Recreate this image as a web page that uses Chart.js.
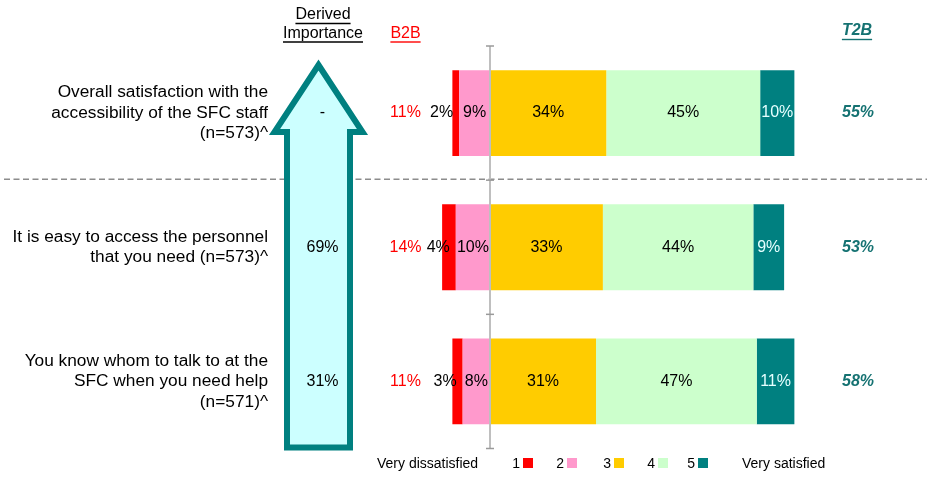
<!DOCTYPE html>
<html><head><meta charset="utf-8">
<script src="https://cdn.jsdelivr.net/npm/chart.js@4.4.1/dist/chart.umd.min.js"></script>
<style>html,body{margin:0;padding:0;background:#fff;overflow:hidden;} canvas{display:block;}</style>
</head><body>
<canvas id="c" width="929" height="477"></canvas>
<script>
// ---------- data ----------
const categories = [
  ['Overall satisfaction with the', 'accessibility of the SFC staff', '(n=573)^'],
  ['It is easy to access the personnel', 'that you need (n=573)^'],
  ['You know whom to talk to at the', 'SFC when you need help', '(n=571)^']
];
const ratingLabels = ['1', '2', '3', '4', '5'];
const veryDissatisfied = [2, 4, 3];   // rating 1
const dissatisfied     = [9, 10, 8];  // rating 2
const neutral          = [34, 33, 31];// rating 3
const satisfied        = [45, 44, 47];// rating 4
const verySatisfied    = [10, 9, 11]; // rating 5
const importance = ['-', '69%', '31%'];
const b2b = [11, 14, 11];
const t2b = [55, 53, 58];
const ratingColors = ['#ff0000', '#ff99cc', '#ffcc00', '#ccffcc', '#008080'];

const FONT = '"Liberation Sans", Arial, Helvetica, sans-serif';

function underlinedText(ctx, text, x, y, lineY, color, font) {
  ctx.font = font; ctx.fillStyle = color; ctx.textAlign = 'center'; ctx.textBaseline = 'middle';
  ctx.fillText(text, x, y);
  const w = ctx.measureText(text).width;
  ctx.strokeStyle = color; ctx.lineWidth = 1.4;
  ctx.beginPath(); ctx.moveTo(x - w / 2, lineY); ctx.lineTo(x + w / 2, lineY); ctx.stroke();
}

const decor = {
  id: 'decor',
  beforeDatasetsDraw(chart) {
    const { ctx, chartArea: ca, scales: { y } } = chart;
    ctx.save();
    // dashed separator between the first and second statement
    const ySep = (y.getPixelForValue(0) + y.getPixelForValue(1)) / 2 - 1;
    ctx.strokeStyle = '#8c8c8c'; ctx.lineWidth = 1.5; ctx.setLineDash([6, 3.5]);
    ctx.beginPath(); ctx.moveTo(4, ySep); ctx.lineTo(927, ySep); ctx.stroke();
    ctx.setLineDash([]);

    // importance arrow
    const cx = 318.5, tipY = 65, headY = 132, headHalf = 44, shaftHalf = 31.5, bottom = ca.bottom - 1;
    ctx.beginPath();
    ctx.moveTo(cx, tipY);
    ctx.lineTo(cx + headHalf, headY);
    ctx.lineTo(cx + shaftHalf, headY);
    ctx.lineTo(cx + shaftHalf, bottom);
    ctx.lineTo(cx - shaftHalf, bottom);
    ctx.lineTo(cx - shaftHalf, headY);
    ctx.lineTo(cx - headHalf, headY);
    ctx.closePath();
    ctx.fillStyle = '#ccffff'; ctx.fill();
    ctx.strokeStyle = '#008080'; ctx.lineWidth = 6; ctx.lineJoin = 'miter'; ctx.miterLimit = 10; ctx.stroke();

    // headers
    underlinedText(ctx, 'Derived', 323, 15, 23.5, '#000', '16px ' + FONT);
    underlinedText(ctx, 'Importance', 323, 34, 42, '#000', '16px ' + FONT);
    underlinedText(ctx, 'B2B', 405.5, 34, 42, '#ff0000', '16px ' + FONT);
    underlinedText(ctx, 'T2B', 857, 31, 39.5, '#157272', 'italic bold 16px ' + FONT);

    // column values
    ctx.textAlign = 'center'; ctx.textBaseline = 'middle';
    categories.forEach((c, i) => {
      const py = y.getPixelForValue(i);
      ctx.font = '16px ' + FONT; ctx.fillStyle = '#000';
      ctx.fillText(importance[i], 322.5, py);
      ctx.fillStyle = '#ff0000';
      ctx.fillText(b2b[i] + '%', 405.5, py);
      ctx.font = 'italic bold 16px ' + FONT; ctx.fillStyle = '#157272';
      ctx.fillText(t2b[i] + '%', 858, py);
    });

    // legend
    ctx.font = '14px ' + FONT; ctx.fillStyle = '#000'; ctx.textBaseline = 'middle';
    const ly = 464;
    ctx.textAlign = 'left';
    ctx.fillText('Very dissatisfied', 377, ly);
    ctx.fillText('Very satisfied', 742, ly);
    const boxX = [523, 567, 614, 658, 698];
    ratingLabels.forEach((lab, i) => {
      ctx.fillStyle = '#000'; ctx.textAlign = 'right';
      ctx.fillText(lab, boxX[i] - 3, ly);
      ctx.fillStyle = ratingColors[i];
      ctx.fillRect(boxX[i], ly - 6, 10, 10);
    });
    ctx.restore();
  },
  afterDatasetsDraw(chart) {
    const { ctx, chartArea: ca, scales: { x, y } } = chart;
    ctx.save();
    // segment labels
    ctx.font = '16px ' + FONT; ctx.textBaseline = 'middle';
    chart.data.datasets.forEach((ds, di) => {
      const meta = chart.getDatasetMeta(di);
      meta.data.forEach((el, i) => {
        const v = Math.abs(ds.data[i]);
        const left = Math.min(el.x, el.base), right = Math.max(el.x, el.base);
        ctx.fillStyle = ds.label === '5' ? '#e6ffff' : '#000';
        if (ds.label === '1') {
          ctx.textAlign = 'right';
          ctx.fillText(v + '%', right - 6, el.y);
        } else {
          ctx.textAlign = 'center';
          ctx.fillText(v + '%', (left + right) / 2, el.y);
        }
      });
    });
    // zero axis line with ticks
    const x0 = x.getPixelForValue(0);
    ctx.strokeStyle = '#bfbfbf'; ctx.lineWidth = 2;
    ctx.beginPath(); ctx.moveTo(x0, ca.top); ctx.lineTo(x0, ca.bottom); ctx.stroke();
    ctx.strokeStyle = '#9a9a9a'; ctx.lineWidth = 1.5;
    for (let k = 0; k <= categories.length; k++) {
      const ty = k === 0 ? ca.top : (k === categories.length ? ca.bottom : (y.getPixelForValue(k - 1) + y.getPixelForValue(k)) / 2);
      ctx.beginPath(); ctx.moveTo(x0 - 4, ty); ctx.lineTo(x0 + 4, ty); ctx.stroke();
    }
    ctx.restore();
  }
};

new Chart(document.getElementById('c'), {
  type: 'bar',
  data: {
    labels: categories,
    datasets: [
      { label: '2', data: dissatisfied.map(v => -v), backgroundColor: ratingColors[1] },
      { label: '1', data: veryDissatisfied.map(v => -v), backgroundColor: ratingColors[0] },
      { label: '3', data: neutral, backgroundColor: ratingColors[2] },
      { label: '4', data: satisfied, backgroundColor: ratingColors[3] },
      { label: '5', data: verySatisfied, backgroundColor: ratingColors[4] }
    ]
  },
  options: {
    indexAxis: 'y',
    responsive: false,
    animation: false,
    devicePixelRatio: 1,
    layout: { padding: { left: 0, right: 97, top: 46, bottom: 28.5 } },
    datasets: { bar: { categoryPercentage: 1, barPercentage: 0.64, borderWidth: 0 } },
    plugins: { legend: { display: false }, tooltip: { enabled: false } },
    scales: {
      x: { stacked: true, min: -20, max: 100, display: false },
      y: {
        stacked: true,
        position: 'left',
        weight: 10,
        grid: { display: false, drawTicks: false },
        border: { display: false },
        ticks: { font: { size: 17.3, family: FONT, lineHeight: 1.18 }, color: '#000', padding: 0, autoSkip: false },
        afterFit(axis) { axis.width = 268; axis.paddingTop = 0; axis.paddingBottom = 0; }
      },
      yGap: {
        type: 'category',
        position: 'left',
        weight: 0,
        grid: { display: false, drawTicks: false },
        border: { display: false },
        ticks: { display: false },
        afterFit(axis) { axis.width = 153.6; axis.paddingTop = 0; axis.paddingBottom = 0; }
      }
    }
  },
  plugins: [decor]
});
</script>
</body></html>
